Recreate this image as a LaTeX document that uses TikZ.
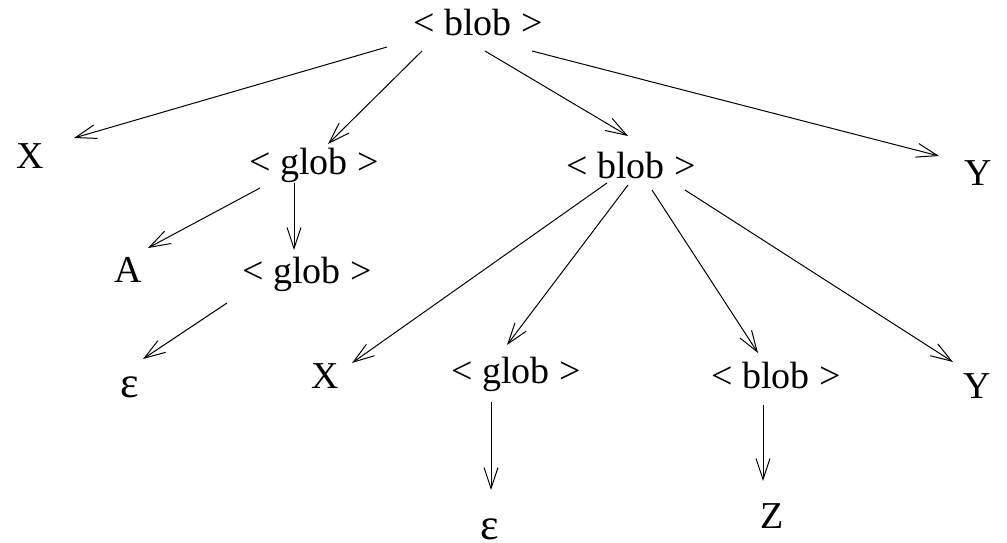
\documentclass[tikz,border=0pt]{standalone}
\usepackage{fontspec}
\setmainfont{Liberation Serif}
\usetikzlibrary{arrows.meta,calc}
\begin{document}
\begin{tikzpicture}[x=1pt,y=-1pt,
  lbl/.style={inner sep=0pt, anchor=base, font=\fontsize{38}{40}\selectfont},
  epsl/.style={lbl, font=\fontsize{44}{44}\selectfont},
  arr/.style={line width=1pt, -{Straight Barb[length=21pt,width=14pt,line width=1pt]}}]
\useasboundingbox (0,0) rectangle (1007,543);
% nodes (positioned at baselines)
\node[lbl] (top)   at (478,36)  {< blob >};
\node[lbl] (X1)    at (30,168)  {X};
\node[lbl] (glob1) at (314,174) {< glob >};
\node[lbl] (blob2) at (631,178) {< blob >};
\node[lbl] (Y1)    at (978,185) {Y};
\node[lbl] (A)     at (128,282) {A};
\node[lbl] (glob2) at (307,283) {< glob >};
\node[epsl] (eps1) at (130,397) {ε};
\node[lbl] (X2)    at (325,388) {X};
\node[lbl] (glob3) at (516,383) {< glob >};
\node[lbl] (blob3) at (776,388) {< blob >};
\node[lbl] (Y2)    at (977,398) {Y};
\node[epsl] (eps2) at (490,539) {ε};
\node[lbl] (Z)     at (772,528) {Z};
% connectors
\draw[arr] ($(top.base)+(-91,11)$) -- ($(X1.base)+(44,-30)$);
\draw[arr] ($(top.base)+(-56,15)$) -- ($(glob1.base)+(14,-30)$);
\draw[arr] ($(top.base)+(7,15)$) -- ($(blob2.base)+(-3,-42)$);
\draw[arr] ($(top.base)+(54,15)$) -- ($(Y1.base)+(-39,-29)$);
\draw[arr] ($(glob1.base)+(-54,14)$) -- ($(A.base)+(20,-34)$);
\draw[arr] ($(glob1.base)+(-20,9)$) -- ($(glob2.base)+(-13,-33)$);
\draw[arr] ($(glob2.base)+(-80,20)$) -- ($(eps1.base)+(13,-38)$);
\draw[arr] ($(blob2.base)+(-24,5)$) -- ($(X2.base)+(27,-25)$);
\draw[arr] ($(blob2.base)+(-3,7)$) -- ($(glob3.base)+(-9,-38)$);
\draw[arr] ($(blob2.base)+(21,12)$) -- ($(blob3.base)+(-18,-35)$);
\draw[arr] ($(blob2.base)+(54,12)$) -- ($(Y2.base)+(-24,-36)$);
\draw[arr] ($(glob3.base)+(-25,19)$) -- ($(eps2.base)+(1,-49)$);
\draw[arr] ($(blob3.base)+(-13,17)$) -- ($(Z.base)+(-9,-47)$);
\end{tikzpicture}
\end{document}
